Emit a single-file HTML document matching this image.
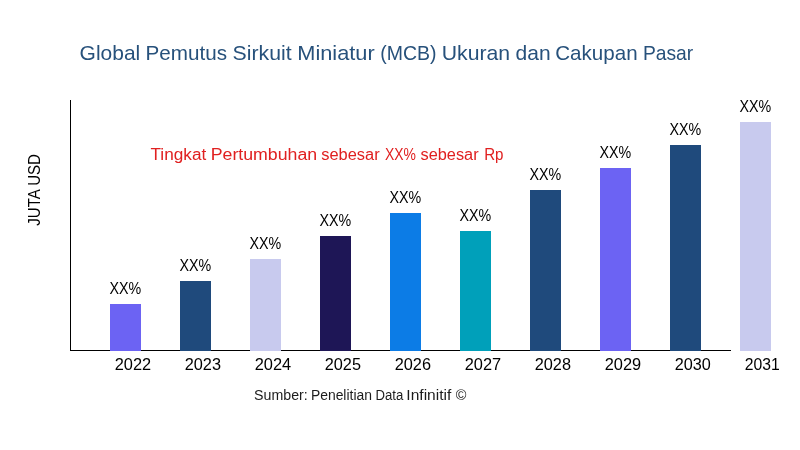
<!DOCTYPE html>
<html lang="id"><head><meta charset="utf-8"><title>Global Pemutus Sirkuit Miniatur (MCB) Ukuran dan Cakupan Pasar</title>
<style>
html,body{margin:0;padding:0;background:#fff;}
body{width:800px;height:450px;overflow:hidden;font-family:"Liberation Sans",sans-serif;}
svg{display:block;will-change:transform;}
text{font-family:"Liberation Sans",sans-serif;}
</style></head><body>
<svg width="800" height="450" viewBox="0 0 800 450">
<rect x="0" y="0" width="800" height="450" fill="#ffffff"/>
<rect x="70" y="100" width="1" height="251" fill="#000"/>
<rect x="70" y="350" width="661" height="1" fill="#000"/>
<rect x="110" y="304" width="31" height="47" fill="#6c63f3"/>
<rect x="180" y="281" width="31" height="70" fill="#1f4a7c"/>
<rect x="250" y="259" width="31" height="92" fill="#c8caee"/>
<rect x="320" y="236" width="31" height="115" fill="#1e1656"/>
<rect x="390" y="213" width="31" height="138" fill="#0c7ce6"/>
<rect x="460" y="231" width="31" height="120" fill="#00a0ba"/>
<rect x="530" y="190" width="31" height="161" fill="#1f4a7c"/>
<rect x="600" y="168" width="31" height="183" fill="#6c63f3"/>
<rect x="670" y="145" width="31" height="206" fill="#1f4a7c"/>
<rect x="740" y="122" width="31" height="229" fill="#c8caee"/>
<g>
<text x="79.61" y="60" font-size="21" fill="#27517b" textLength="60.67" lengthAdjust="spacingAndGlyphs">Global</text>
<text x="145.6" y="60" font-size="21" fill="#27517b" textLength="81.48" lengthAdjust="spacingAndGlyphs">Pemutus</text>
<text x="232.63" y="60" font-size="21" fill="#27517b" textLength="59.05" lengthAdjust="spacingAndGlyphs">Sirkuit</text>
<text x="297.28" y="60" font-size="21" fill="#27517b" textLength="77.46" lengthAdjust="spacingAndGlyphs">Miniatur</text>
<text x="380.18" y="60" font-size="21" fill="#27517b" textLength="56.3" lengthAdjust="spacingAndGlyphs">(MCB)</text>
<text x="441.77" y="60" font-size="21" fill="#27517b" textLength="68.37" lengthAdjust="spacingAndGlyphs">Ukuran</text>
<text x="515.59" y="60" font-size="21" fill="#27517b" textLength="35.08" lengthAdjust="spacingAndGlyphs">dan</text>
<text x="555.26" y="60" font-size="21" fill="#27517b" textLength="82.35" lengthAdjust="spacingAndGlyphs">Cakupan</text>
<text x="642.9" y="60" font-size="21" fill="#27517b" textLength="50.32" lengthAdjust="spacingAndGlyphs">Pasar</text>
</g>
<g>
<text x="150.51" y="160" font-size="16" fill="#e02020" textLength="55.76" lengthAdjust="spacingAndGlyphs">Tingkat</text>
<text x="210.71" y="160" font-size="16" fill="#e02020" textLength="106.42" lengthAdjust="spacingAndGlyphs">Pertumbuhan</text>
<text x="321.26" y="160" font-size="16" fill="#e02020" textLength="58.36" lengthAdjust="spacingAndGlyphs">sebesar</text>
<text x="384.97" y="160" font-size="16" fill="#e02020" textLength="31.0" lengthAdjust="spacingAndGlyphs">XX%</text>
<text x="420.53" y="160" font-size="16" fill="#e02020" textLength="58.11" lengthAdjust="spacingAndGlyphs">sebesar</text>
<text x="484.16" y="160" font-size="16" fill="#e02020" textLength="19.31" lengthAdjust="spacingAndGlyphs">Rp</text>
</g>
<g>
<text x="109.54" y="294" font-size="16" fill="#000" textLength="31.73" lengthAdjust="spacingAndGlyphs">XX%</text>
<text x="179.54" y="271" font-size="16" fill="#000" textLength="31.73" lengthAdjust="spacingAndGlyphs">XX%</text>
<text x="249.54" y="249" font-size="16" fill="#000" textLength="31.73" lengthAdjust="spacingAndGlyphs">XX%</text>
<text x="319.54" y="226" font-size="16" fill="#000" textLength="31.73" lengthAdjust="spacingAndGlyphs">XX%</text>
<text x="389.54" y="203" font-size="16" fill="#000" textLength="31.73" lengthAdjust="spacingAndGlyphs">XX%</text>
<text x="459.54" y="221" font-size="16" fill="#000" textLength="31.73" lengthAdjust="spacingAndGlyphs">XX%</text>
<text x="529.54" y="180" font-size="16" fill="#000" textLength="31.73" lengthAdjust="spacingAndGlyphs">XX%</text>
<text x="599.54" y="158" font-size="16" fill="#000" textLength="31.73" lengthAdjust="spacingAndGlyphs">XX%</text>
<text x="669.54" y="135" font-size="16" fill="#000" textLength="31.73" lengthAdjust="spacingAndGlyphs">XX%</text>
<text x="739.54" y="112" font-size="16" fill="#000" textLength="31.73" lengthAdjust="spacingAndGlyphs">XX%</text>
</g>
<g>
<text x="114.7" y="370" font-size="16.5" fill="#000" textLength="36.44" lengthAdjust="spacingAndGlyphs">2022</text>
<text x="184.73" y="370" font-size="16.5" fill="#000" textLength="36.3" lengthAdjust="spacingAndGlyphs">2023</text>
<text x="254.7" y="370" font-size="16.5" fill="#000" textLength="36.51" lengthAdjust="spacingAndGlyphs">2024</text>
<text x="324.73" y="370" font-size="16.5" fill="#000" textLength="36.23" lengthAdjust="spacingAndGlyphs">2025</text>
<text x="394.73" y="370" font-size="16.5" fill="#000" textLength="36.3" lengthAdjust="spacingAndGlyphs">2026</text>
<text x="464.7" y="370" font-size="16.5" fill="#000" textLength="36.44" lengthAdjust="spacingAndGlyphs">2027</text>
<text x="534.73" y="370" font-size="16.5" fill="#000" textLength="36.3" lengthAdjust="spacingAndGlyphs">2028</text>
<text x="604.7" y="370" font-size="16.5" fill="#000" textLength="36.45" lengthAdjust="spacingAndGlyphs">2029</text>
<text x="674.75" y="370" font-size="16.5" fill="#000" textLength="36.12" lengthAdjust="spacingAndGlyphs">2030</text>
<text x="744.81" y="370" font-size="16.5" fill="#000" textLength="34.99" lengthAdjust="spacingAndGlyphs">2031</text>
</g>
<g>
<text x="254.13" y="400.3" font-size="14" fill="#1c1c1c" textLength="53.64" lengthAdjust="spacingAndGlyphs">Sumber:</text>
<text x="310.89" y="400.3" font-size="14" fill="#1c1c1c" textLength="61.12" lengthAdjust="spacingAndGlyphs">Penelitian</text>
<text x="375.55" y="400.3" font-size="14" fill="#1c1c1c" textLength="27.79" lengthAdjust="spacingAndGlyphs">Data</text>
<text x="406.38" y="400.3" font-size="14" fill="#1c1c1c" textLength="44.94" lengthAdjust="spacingAndGlyphs">Infinitif</text>
<text x="455.66" y="400.3" font-size="14" fill="#1c1c1c" textLength="10.66" lengthAdjust="spacingAndGlyphs">©</text>
</g>
<text transform="translate(40.0,225.8) rotate(-90)" x="0" y="0" font-size="15.7" fill="#000" textLength="71.81" lengthAdjust="spacingAndGlyphs">JUTA USD</text>
</svg>
</body></html>
